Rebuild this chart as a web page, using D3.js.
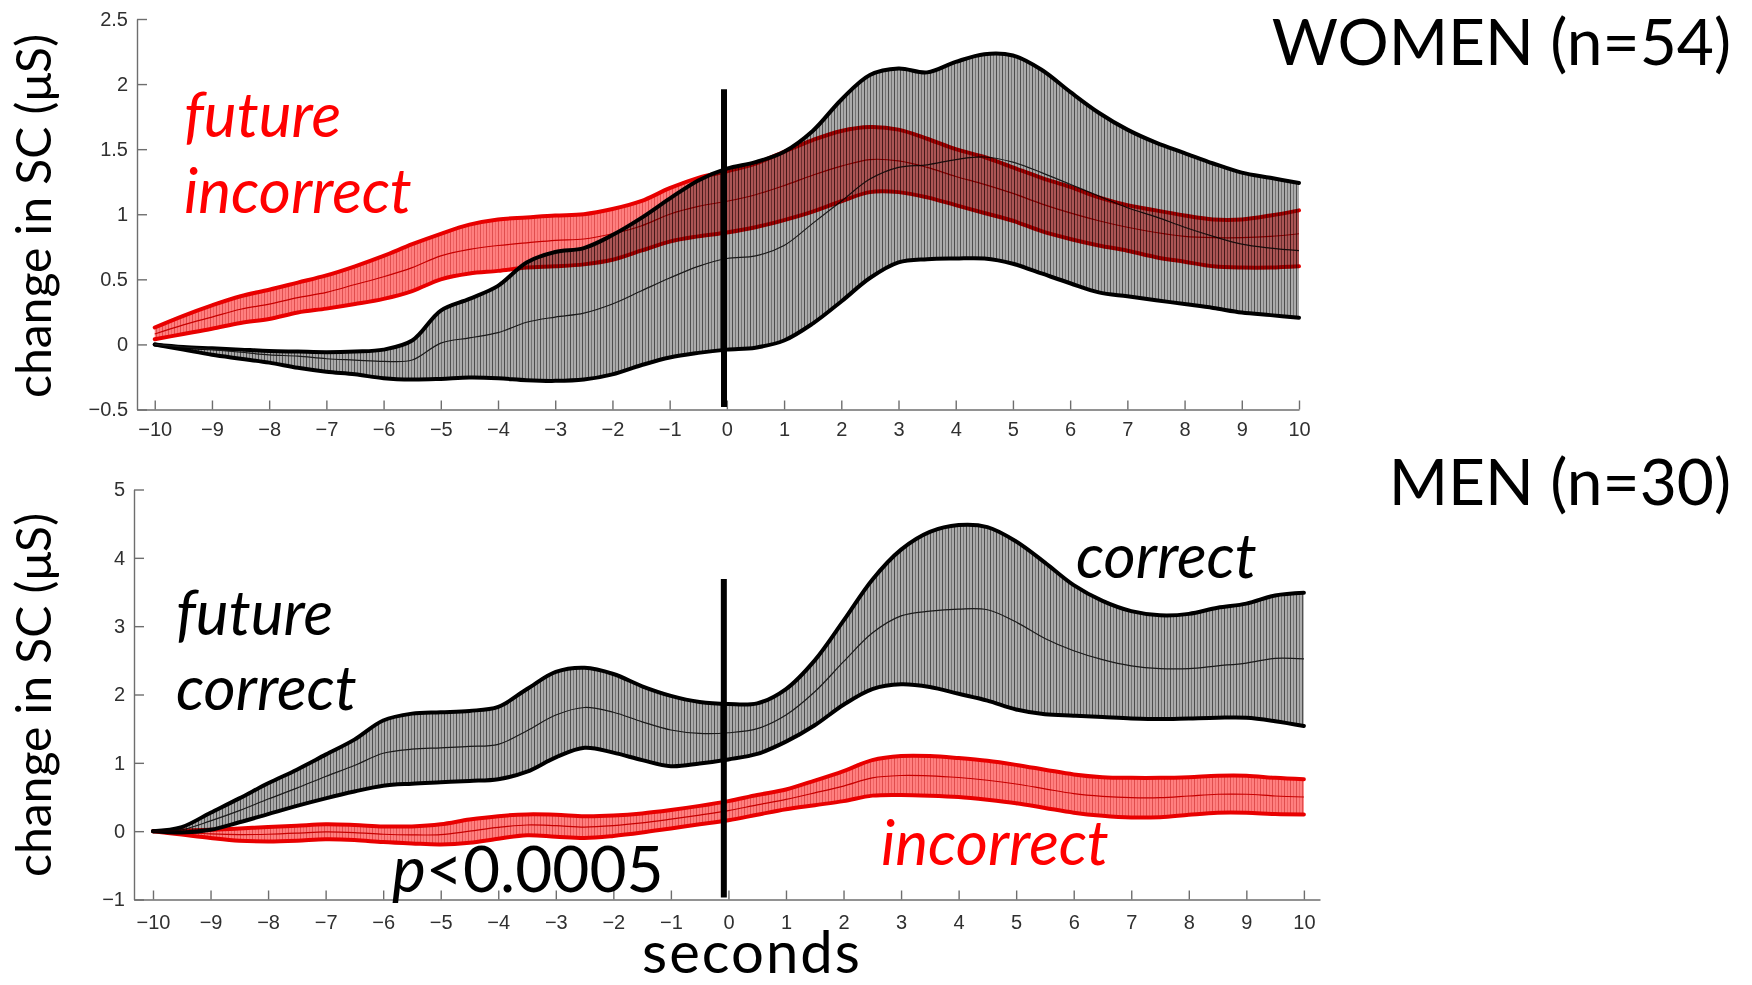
<!DOCTYPE html>
<html>
<head>
<meta charset="utf-8">
<script src="https://cdn.jsdelivr.net/npm/d3@7"></script>
<style>
  html, body { margin: 0; padding: 0; background: #fff; }
  svg { display: block; }
  .axis .tick text { font-family: "Liberation Sans", Arial, sans-serif; font-size: 20px; fill: #303030; }
  .axis .domain, .axis .tick line { stroke: #6e6e6e; stroke-width: 1.4; }
  .big { font-family: Lato, "Open Sans", sans-serif; }
</style>
</head>
<body>
<svg id="chart" width="1752" height="985"></svg>
<script>
// time from the decision, in seconds (one sample every half second)
const SECONDS = [-10, -9.5, -9, -8.5, -8, -7.5, -7, -6.5, -6, -5.5, -5, -4.5, -4, -3.5, -3, -2.5, -2, -1.5, -1, -0.5,
    0, 0.5, 1, 1.5, 2, 2.5, 3, 3.5, 4, 4.5, 5, 5.5, 6, 6.5, 7, 7.5, 8, 8.5, 9, 9.5, 10];
const X_TICKS = [-10, -9, -8, -7, -6, -5, -4, -3, -2, -1, 0, 1, 2, 3, 4, 5, 6, 7, 8, 9, 10];
const WOMEN_Y_TICKS = [-0.5, 0, 0.5, 1, 1.5, 2, 2.5];
const MEN_Y_TICKS = [-1, 0, 1, 2, 3, 4, 5];

// WOMEN, future correct (grey band)
const WOMEN_CORRECT_HI = [0, -0.02, -0.03, -0.04, -0.05, -0.055, -0.06, -0.055, -0.04, 0.03, 0.26, 0.35, 0.45, 0.63, 0.71, 0.74, 0.84, 0.97, 1.12, 1.26,
    1.35, 1.40, 1.48, 1.64, 1.88, 2.07, 2.12, 2.09, 2.17, 2.23, 2.22, 2.11, 1.94, 1.78, 1.65, 1.55, 1.47, 1.39, 1.32, 1.28, 1.24];
const WOMEN_CORRECT_LO = [0, -0.04, -0.08, -0.11, -0.14, -0.18, -0.21, -0.23, -0.26, -0.27, -0.265, -0.255, -0.26, -0.275, -0.28, -0.27, -0.23, -0.16, -0.10, -0.065,
    -0.04, -0.025, 0.03, 0.16, 0.33, 0.51, 0.63, 0.655, 0.66, 0.66, 0.62, 0.545, 0.47, 0.40, 0.37, 0.34, 0.31, 0.28, 0.245, 0.225, 0.205];
const WOMEN_CORRECT_MEAN = [0, -0.02, -0.04, -0.06, -0.08, -0.09, -0.11, -0.12, -0.13, -0.12, 0.01, 0.05, 0.09, 0.17, 0.21, 0.24, 0.31, 0.41, 0.51, 0.60,
    0.66, 0.68, 0.76, 0.93, 1.10, 1.27, 1.36, 1.38, 1.42, 1.44, 1.40, 1.32, 1.23, 1.14, 1.05, 0.98, 0.90, 0.83, 0.77, 0.74, 0.72];

// WOMEN, future incorrect (red band)
const WOMEN_INCORRECT_HI = [0.13, 0.22, 0.30, 0.37, 0.42, 0.475, 0.53, 0.60, 0.68, 0.77, 0.85, 0.92, 0.96, 0.975, 0.99, 1.00, 1.04, 1.10, 1.20, 1.28,
    1.33, 1.39, 1.48, 1.57, 1.64, 1.67, 1.65, 1.58, 1.50, 1.44, 1.36, 1.28, 1.21, 1.13, 1.07, 1.03, 0.99, 0.96, 0.96, 0.99, 1.03];
const WOMEN_INCORRECT_LO = [0.04, 0.08, 0.12, 0.165, 0.195, 0.245, 0.275, 0.31, 0.35, 0.41, 0.50, 0.545, 0.565, 0.59, 0.60, 0.615, 0.65, 0.72, 0.79, 0.83,
    0.86, 0.90, 0.955, 1.02, 1.10, 1.17, 1.17, 1.13, 1.07, 1.01, 0.95, 0.87, 0.81, 0.76, 0.72, 0.67, 0.635, 0.60, 0.59, 0.59, 0.60];
const WOMEN_INCORRECT_MEAN = [0.08, 0.15, 0.21, 0.27, 0.31, 0.36, 0.40, 0.46, 0.52, 0.59, 0.68, 0.73, 0.76, 0.78, 0.80, 0.81, 0.85, 0.91, 1.00, 1.06,
    1.10, 1.15, 1.22, 1.30, 1.37, 1.42, 1.41, 1.36, 1.29, 1.23, 1.16, 1.08, 1.01, 0.95, 0.90, 0.86, 0.83, 0.82, 0.82, 0.83, 0.85];

// MEN, future correct (grey band)
const MEN_CORRECT_HI = [0, 0.06, 0.27, 0.48, 0.70, 0.90, 1.12, 1.34, 1.62, 1.72, 1.74, 1.76, 1.82, 2.08, 2.33, 2.39, 2.30, 2.12, 1.98, 1.89,
    1.86, 1.87, 2.08, 2.50, 3.08, 3.68, 4.12, 4.38, 4.48, 4.45, 4.24, 3.93, 3.60, 3.37, 3.22, 3.16, 3.18, 3.27, 3.33, 3.45, 3.49];
const MEN_CORRECT_LO = [0, -0.02, 0.02, 0.13, 0.25, 0.37, 0.48, 0.58, 0.665, 0.695, 0.715, 0.735, 0.76, 0.87, 1.08, 1.22, 1.15, 1.04, 0.95, 0.99,
    1.05, 1.13, 1.31, 1.55, 1.85, 2.08, 2.15, 2.11, 2.01, 1.91, 1.78, 1.71, 1.69, 1.67, 1.65, 1.64, 1.65, 1.66, 1.66, 1.61, 1.54];
const MEN_CORRECT_MEAN = [0, 0.02, 0.15, 0.30, 0.47, 0.63, 0.80, 0.96, 1.14, 1.20, 1.22, 1.24, 1.27, 1.47, 1.70, 1.81, 1.74, 1.60, 1.48, 1.43,
    1.44, 1.50, 1.70, 2.04, 2.48, 2.90, 3.15, 3.22, 3.25, 3.24, 3.06, 2.82, 2.64, 2.51, 2.42, 2.38, 2.38, 2.42, 2.46, 2.53, 2.52];

// MEN, future incorrect (red band)
const MEN_INCORRECT_HI = [0, 0.01, 0.02, 0.04, 0.06, 0.08, 0.10, 0.09, 0.07, 0.07, 0.10, 0.17, 0.22, 0.245, 0.24, 0.22, 0.23, 0.26, 0.31, 0.37,
    0.44, 0.53, 0.61, 0.74, 0.88, 1.04, 1.10, 1.10, 1.07, 1.03, 0.97, 0.90, 0.83, 0.79, 0.78, 0.78, 0.79, 0.81, 0.81, 0.78, 0.76];
const MEN_INCORRECT_LO = [0, -0.05, -0.10, -0.14, -0.15, -0.14, -0.12, -0.13, -0.16, -0.18, -0.195, -0.17, -0.11, -0.06, -0.08, -0.10, -0.07, -0.02, 0.04, 0.10,
    0.16, 0.24, 0.32, 0.38, 0.44, 0.52, 0.53, 0.52, 0.50, 0.46, 0.41, 0.34, 0.27, 0.225, 0.20, 0.205, 0.24, 0.27, 0.27, 0.25, 0.245];
const MEN_INCORRECT_MEAN = [0, -0.02, -0.04, -0.05, -0.045, -0.03, -0.01, -0.02, -0.045, -0.055, -0.05, 0.0, 0.055, 0.09, 0.08, 0.06, 0.08, 0.12, 0.175, 0.235,
    0.30, 0.385, 0.465, 0.56, 0.66, 0.78, 0.815, 0.81, 0.785, 0.745, 0.69, 0.62, 0.55, 0.51, 0.49, 0.49, 0.515, 0.54, 0.54, 0.515, 0.50];

const SVG = d3.select('#chart');

/**
 * vertical hatching, the look of matlab errorbars drawn one per sample
 */
const buildPatterns = () => {
    const defs = SVG.append('defs');
    const hatch = (id, bg, fg1, fg2) => {
        const p = defs.append('pattern')
            .attr('id', id)
            .attr('patternUnits', 'userSpaceOnUse')
            .attr('width', 6)
            .attr('height', 20);
        p.append('rect').attr('width', 6).attr('height', 20).attr('fill', bg);
        p.append('rect').attr('width', 1).attr('height', 20).attr('fill', fg1);
        p.append('rect').attr('x', 3).attr('width', 1).attr('height', 20).attr('fill', fg2);
    };
    hatch('hatchGray', '#ababab', '#4e4e4e', '#747474');
    hatch('hatchRed', '#ff7f7f', '#e04e4e', '#ee6464');
}

/**
 * one shaded band: hatched area between lo and hi, thick edges, thin mean
 */
const buildBand = (g, x, y, hi, lo, mean, colors) => {
    const rows = SECONDS.map((t, i) => ({ t: t, hi: hi[i], lo: lo[i], mean: mean[i] }));
    const area = d3.area()
        .x(d => x(d.t))
        .y0(d => y(d.lo))
        .y1(d => y(d.hi))
        .curve(d3.curveCatmullRom);
    const line = key => d3.line()
        .x(d => x(d.t))
        .y(d => y(d[key]))
        .curve(d3.curveCatmullRom);

    g.append('path')
        .datum(rows)
        .attr('d', area)
        .attr('fill', `url(#${colors.pattern})`);

    ['hi', 'lo'].forEach(k => {
        g.append('path')
            .datum(rows)
            .attr('d', line(k))
            .attr('fill', 'none')
            .attr('stroke', colors.edge)
            .attr('stroke-width', 4)
            .attr('stroke-linejoin', 'round')
            .attr('stroke-linecap', 'round');
    });

    g.append('path')
        .datum(rows)
        .attr('d', line('mean'))
        .attr('fill', 'none')
        .attr('stroke', colors.mean)
        .attr('stroke-width', 1.2);
}

/**
 * axes (matlab style, ticks pointing inside, no box)
 */
const buildAxes = (g, x, y, yTicks, xPad) => {
    const xAxis = d3.axisBottom(x)
        .tickValues(X_TICKS)
        .tickSizeInner(-9)
        .tickSizeOuter(0)
        .tickPadding(xPad)
        .tickFormat(d3.format('d'));
    g.append('g')
        .attr('class', 'axis')
        .attr('transform', `translate(0,${y.range()[0]})`)
        .call(xAxis);

    const yAxis = d3.axisLeft(y)
        .tickValues(yTicks)
        .tickSizeInner(-10)
        .tickSizeOuter(0)
        .tickPadding(9)
        .tickFormat(d3.format('~g'));
    g.append('g')
        .attr('class', 'axis')
        .attr('transform', `translate(${x.range()[0]},0)`)
        .call(yAxis);
}

const buildPanel = (cfg) => {
    const x = d3.scaleLinear().domain(cfg.xDomain).range(cfg.xRange);
    const y = d3.scaleLinear().domain(cfg.yDomain).range(cfg.yRange);
    const g = SVG.append('g').attr('id', cfg.id);

    buildBand(g.append('g'), x, y, cfg.correct[0], cfg.correct[1], cfg.correct[2],
        { pattern: 'hatchGray', edge: '#000', mean: '#1a1a1a' });
    buildBand(g.append('g').style('mix-blend-mode', 'multiply'), x, y, cfg.incorrect[0], cfg.incorrect[1], cfg.incorrect[2],
        { pattern: 'hatchRed', edge: '#e80000', mean: '#c80000' });

    buildAxes(g, x, y, cfg.yTicks, cfg.xPad);

    // stimulus onset marker
    g.append('line')
        .attr('x1', x(cfg.onset))
        .attr('x2', x(cfg.onset))
        .attr('y1', y(cfg.onsetSpan[0]))
        .attr('y2', y(cfg.onsetSpan[1]))
        .attr('stroke', '#000')
        .attr('stroke-width', 6);

    // y title
    g.append('text')
        .attr('class', 'big')
        .attr('transform', `translate(51,${cfg.titleY}) rotate(-90)`)
        .attr('text-anchor', 'middle')
        .style('font-size', '48px')
        .text('change in SC (μS)');
    return { x, y };
}

buildPatterns();

buildPanel({
    id: 'women',
    xDomain: [-10.31, 10], xRange: [137, 1299],
    yDomain: [-0.5, 2.5], yRange: [409.5, 19],
    yTicks: WOMEN_Y_TICKS,
    xPad: 12,
    correct: [WOMEN_CORRECT_HI, WOMEN_CORRECT_LO, WOMEN_CORRECT_MEAN],
    incorrect: [WOMEN_INCORRECT_HI, WOMEN_INCORRECT_LO, WOMEN_INCORRECT_MEAN],
    onset: -0.05, onsetSpan: [-0.48, 1.96],
    titleY: 216
});

buildPanel({
    id: 'men',
    xDomain: [-10.33, 10.28], xRange: [134, 1320],
    yDomain: [-1, 5], yRange: [899.5, 489.5],
    yTicks: MEN_Y_TICKS,
    xPad: 15,
    correct: [MEN_CORRECT_HI, MEN_CORRECT_LO, MEN_CORRECT_MEAN],
    incorrect: [MEN_INCORRECT_HI, MEN_INCORRECT_LO, MEN_INCORRECT_MEAN],
    onset: -0.08, onsetSpan: [-0.97, 3.69],
    titleY: 695
});

// annotations
const addText = (txt, x, y, size, color, italic, anchor) => {
    return SVG.append('text')
        .attr('class', 'big')
        .attr('x', x)
        .attr('y', y)
        .attr('text-anchor', anchor || 'start')
        .style('font-size', size + 'px')
        .style('font-style', italic ? 'italic' : 'normal')
        .style('fill', color)
        .text(txt);
}

addText('WOMEN (n=54)', 1731, 65, 64, '#000', false, 'end');
addText('MEN (n=30)', 1731, 505, 64, '#000', false, 'end');
addText('future', 184, 137, 62, '#ff0000', true);
addText('incorrect', 184, 213, 62, '#ff0000', true);
addText('future', 176, 635, 62, '#000', true);
addText('correct', 176, 710, 62, '#000', true);
addText('correct', 1076, 578, 62, '#000', true);
addText('incorrect', 881, 865, 62, '#ff0000', true);
addText('seconds', 752, 973, 58, '#000', false, 'middle')
    .style('letter-spacing', '2px');

const pText = SVG.append('text')
    .attr('class', 'big')
    .attr('x', 392)
    .attr('y', 892)
    .style('font-size', '64px');
pText.append('tspan').style('font-style', 'italic').text('p');
pText.append('tspan').text('<0.0005');
</script>
</body>
</html>
